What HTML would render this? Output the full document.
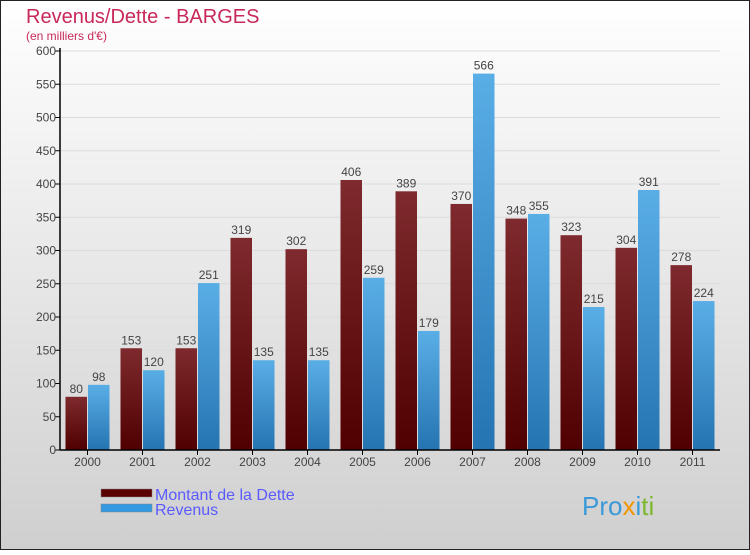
<!DOCTYPE html>
<html><head><meta charset="utf-8"><style>
html,body{margin:0;padding:0}
body{width:750px;height:550px;overflow:hidden;font-family:"Liberation Sans","DejaVu Sans",sans-serif}
</style></head><body>
<svg id="chart" width="750" height="550" xmlns="http://www.w3.org/2000/svg">
<defs>
<linearGradient id="bg" x1="0" y1="0" x2="0" y2="1"><stop offset="0" stop-color="#ffffff"/><stop offset="1" stop-color="#cfcfcf"/></linearGradient>
<linearGradient id="gr" x1="0" y1="0" x2="0" y2="1"><stop offset="0" stop-color="#7e2a2e"/><stop offset="1" stop-color="#500000"/></linearGradient>
<linearGradient id="gb" x1="0" y1="0" x2="0" y2="1"><stop offset="0" stop-color="#5aaee6"/><stop offset="1" stop-color="#2574b2"/></linearGradient>
</defs>
<rect x="0.5" y="0.5" width="749" height="549" fill="url(#bg)" stroke="#222"/>
<text x="26" y="23" font-size="20" fill="#c8285a">Revenus/Dette - BARGES</text>
<text x="26" y="40" font-size="12" fill="#c8285a">(en milliers d'€)</text>
<g id="grid"></g><g id="bars"></g><g id="axes"></g>
<g>
<rect x="101" y="489" width="51" height="8" fill="#5a0000" stroke="#888" stroke-width="0.5"/>
<text x="155" y="500" font-size="16" fill="#5a5aff">Montant de la Dette</text>
<rect x="101" y="504" width="51" height="8" fill="#3399e0" stroke="#888" stroke-width="0.5"/>
<text x="155" y="515" font-size="16" fill="#5a5aff">Revenus</text>
</g>
<text x="582" y="515" font-size="26" fill="#3a9ad9"><tspan fill="#3a9ad9">Pro</tspan><tspan fill="#f29400">x</tspan><tspan fill="#3a9ad9">i</tspan><tspan fill="#7cb82f">ti</tspan></text>
</svg>
<script>
const categories=["2000","2001","2002","2003","2004","2005","2006","2007","2008","2009","2010","2011"];
const dette=[80,153,153,319,302,406,389,370,348,323,304,278];
const revenus=[98,120,251,135,135,259,179,566,355,215,391,224];
const yTicks=[0,50,100,150,200,250,300,350,400,450,500,550,600];
const NS="http://www.w3.org/2000/svg";
const X0=60,X1=720,Y0=450,Y1=51,YMAX=600;
const y=v=>Y0-(v/YMAX)*(Y0-Y1);
const band=(X1-X0)/categories.length;
const xc=i=>X0+band*(i+0.5);
function mk(tag,attrs,parent){const e=document.createElementNS(NS,tag);for(const k in attrs)e.setAttribute(k,attrs[k]);parent.appendChild(e);return e;}
const grid=document.getElementById('grid'),bars=document.getElementById('bars'),axes=document.getElementById('axes');
yTicks.forEach(t=>{
  const l=mk('line',{x1:X0,x2:X1,y1:y(t),y2:y(t),stroke:'#dcdcdc','stroke-width':1},grid);
  
  
  const tk=mk('line',{x1:X0-5,x2:X0,y1:y(t),y2:y(t),stroke:'#000'},axes);
  
  
  const tx=mk('text',{x:X0-4,y:y(t)+4,'font-size':12,fill:'#444','text-anchor':'end'},axes);
  tx.textContent=t;
  
  
});
const bw=21.5;
categories.forEach((c,i)=>{
  const cx=xc(i);
  [[dette[i],'url(#gr)',cx-bw-0.5,'dette'],[revenus[i],'url(#gb)',cx+0.5,'revenus']].forEach(([v,f,x,s])=>{
    const r=mk('rect',{x:x,y:y(v),width:bw,height:Y0-y(v),fill:f},bars);
    
    
    const t=mk('text',{x:x+bw/2,y:y(v)-4,'font-size':12,fill:'#444','text-anchor':'middle'},bars);
    t.textContent=v;
    
    
  });
  const tk=mk('line',{x1:cx,x2:cx,y1:Y0,y2:Y0+5,stroke:'#000'},axes);
  
  
  const tx=mk('text',{x:cx,y:Y0+16,'font-size':12,fill:'#444','text-anchor':'middle'},axes);
  tx.textContent=c;
  
  
});
const ya=mk('line',{x1:X0,x2:X0,y1:Y1-3,y2:Y0,stroke:'#000','stroke-width':1.5},axes);


const xa=mk('line',{x1:X0,x2:X1,y1:Y0,y2:Y0,stroke:'#000','stroke-width':1.5},axes);


</script>
</body></html>
